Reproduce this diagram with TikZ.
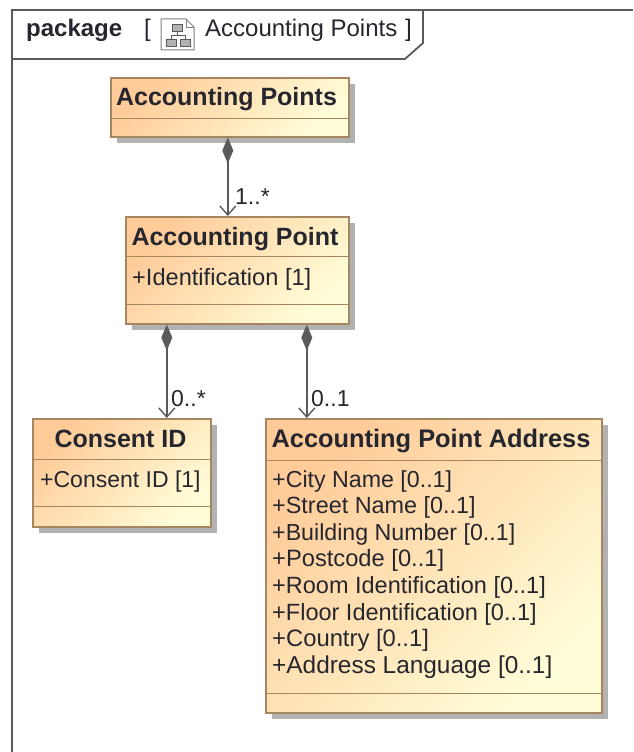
\documentclass[tikz,border=0pt]{standalone}
\usepackage{fontspec}
\setmainfont{Liberation Sans}
\usetikzlibrary{arrows.meta,shadows}
\definecolor{boxedge}{HTML}{A58660}
\definecolor{boxfrom}{HTML}{FFCB98}
\definecolor{boxto}{HTML}{FFFDD8}
\definecolor{frameline}{HTML}{5A5A5A}
\definecolor{inktext}{HTML}{26262E}
\tikzset{
	classbox/.style={draw=boxedge, line width=1.6pt, rectangle, inner sep=0pt, anchor=north west,
		left color=boxfrom, right color=boxto, shading angle=45,
		general shadow={fill=black!30, shadow xshift=6pt, shadow yshift=-6pt}},
	classname/.style={anchor=base, inner sep=0pt, text=inktext, font=\fontsize{25}{28}\selectfont\bfseries},
	attr/.style={anchor=base west, inner sep=0pt, text=inktext, font=\fontsize{#1}{28}\selectfont},
	attr/.default=23.6,
	mult/.style={anchor=base west, inner sep=0pt, text=inktext, font=\fontsize{23}{28}\selectfont},
	divider/.style={draw=boxedge, line width=1.6pt},
	comp/.style={draw=frameline, line width=2pt,
		{Diamond[length=26pt,width=11pt,fill=frameline]}-{Straight Barb[length=9pt,width=16pt,line width=1.4pt]}},
}
\begin{document}
\begin{tikzpicture}[x=1pt,y=-1pt]
\useasboundingbox (0,0) rectangle (633,752);
% frame and its tab
\draw[frameline, line width=1.8pt] (633,10) -- (12,10) -- (12,752);
\draw[frameline, line width=1.8pt] (12,59) -- (405,59) -- (423,43) -- (423,10);
\node[anchor=base west, inner sep=0pt, text=inktext, font=\fontsize{24}{28}\selectfont\bfseries] (pkgword) at (26,37) {package};
\node[anchor=base west, inner sep=0pt, text=inktext, font=\fontsize{24}{28}\selectfont] (pkgopen) at (144,37) {[};
\node[anchor=base west, inner sep=0pt, text=inktext, font=\fontsize{24}{28}\selectfont] (pkgname) at (205,37) {Accounting Points};
\node[anchor=base west, inner sep=0pt, text=inktext, font=\fontsize{24}{28}\selectfont] (pkgclose) at (405,37) {]};
% small icon
\draw[gray, line width=1pt, fill=white] (161,19) -- (186,19) -- (194,27) -- (194,50) -- (161,50) -- cycle;
\draw[gray, line width=.8pt] (186,19) -- (186,27) -- (194,27);
\filldraw[draw=frameline, fill=gray!60, line width=.8pt] (172,24) rectangle (182,31);
\filldraw[draw=frameline, fill=gray!60, line width=.8pt] (166,39) rectangle (176,46);
\filldraw[draw=frameline, fill=gray!60, line width=.8pt] (180,39) rectangle (190,46);
\draw[frameline, line width=.8pt] (177,31) -- (177,35) (171,39) -- (171,35) -- (185,35) -- (185,39);
% classes
\node[classbox, minimum width=238pt, minimum height=59pt] (points) at (110,77) {};
\node[classbox, minimum width=223pt, minimum height=107pt] (point) at (125,216) {};
\node[classbox, minimum width=178pt, minimum height=108pt] (consent) at (32,418) {};
\node[classbox, minimum width=336pt, minimum height=294pt] (address) at (265,418) {};
\draw[divider] ([yshift=19pt]points.south west) -- ([yshift=19pt]points.south east);
\draw[divider] ([yshift=68pt]point.south west) -- ([yshift=68pt]point.south east);
\draw[divider] ([yshift=20pt]point.south west) -- ([yshift=20pt]point.south east);
\draw[divider] ([yshift=68pt]consent.south west) -- ([yshift=68pt]consent.south east);
\draw[divider] ([yshift=21pt]consent.south west) -- ([yshift=21pt]consent.south east);
\draw[divider] ([yshift=253pt]address.south west) -- ([yshift=253pt]address.south east);
\draw[divider] ([yshift=20pt]address.south west) -- ([yshift=20pt]address.south east);
\node[classname] (pointsname) at (226.5,105) {Accounting Points};
\node[classname] (pointname) at (235,245) {Accounting Point};
\node[classname] (consentname) at (120.5,447) {Consent ID};
\node[classname, font=\fontsize{25.4}{28}\selectfont\bfseries] (addressname) at (431,447) {Accounting Point Address};
\node[attr] (pointattr) at (132,285) {+Identification [1]};
\node[attr=23] (consentattr) at (40,487) {+Consent ID [1]};
\foreach \txt/\sz [count=\i] in {City Name/23.2,Street Name/23.4,Building Number/23.2,Postcode/23.7,Room Identification/23.5,Floor Identification/23.5,Country/23.8,Address Language/24.4}
	\node[attr=\sz] (addr\i) at (272, {487+(\i-1)*26.6}) {+\txt{} [0..1]};
% connectors
\draw[comp] ([xshift=-2pt]points.south) -- ([xshift=-9.5pt]point.north);
\draw[comp] ([xshift=-70.5pt]point.south) -- ([xshift=45pt]consent.north);
\draw[comp] ([xshift=69.5pt]point.south) -- ([xshift=-127pt]address.north);
\node[mult] (multa) at (235,204) {1..*};
\node[mult] (multb) at (171,406) {0..*};
\node[mult] (multc) at (311,406) {0..1};
\end{tikzpicture}
\end{document}
